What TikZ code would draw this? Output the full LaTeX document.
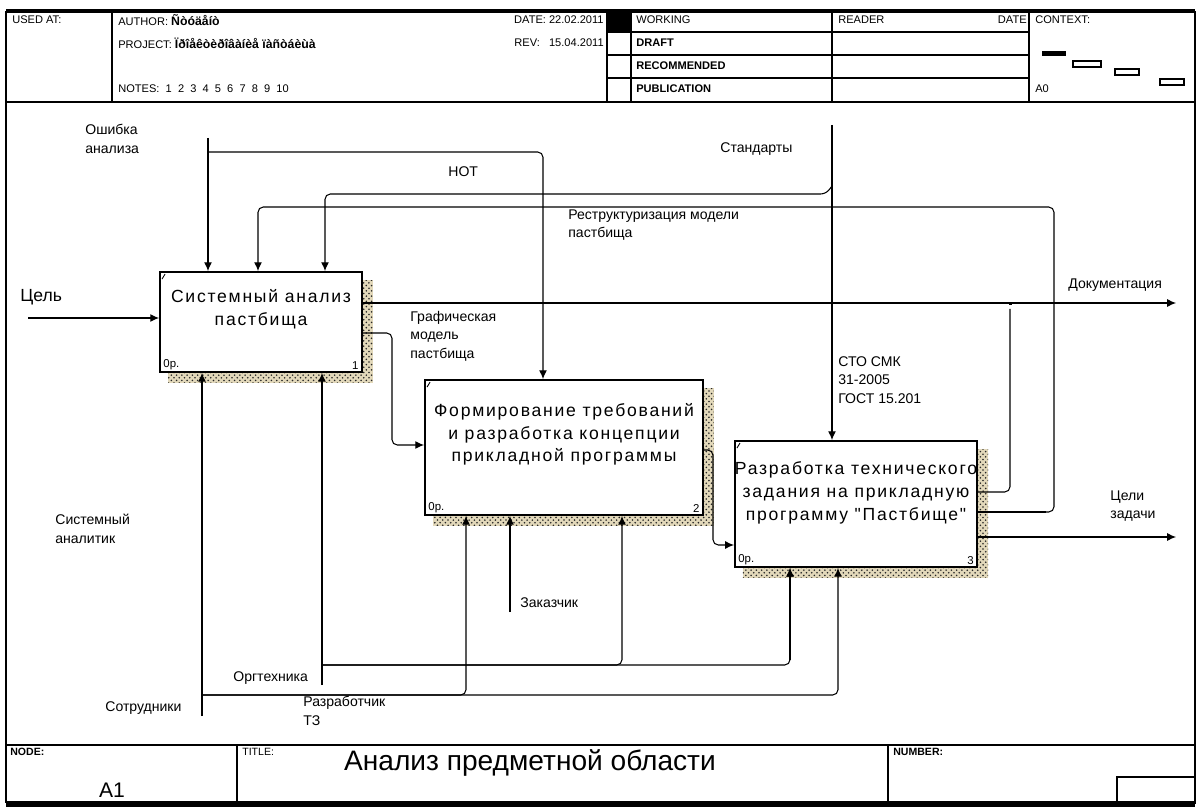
\documentclass[tikz,border=0pt]{standalone}
\usepackage{fontspec}
\setmainfont{Liberation Sans}
\newfontfamily\boxfont[LetterSpace=10]{Liberation Sans}
\usepackage{tikz}
\usetikzlibrary{arrows.meta,positioning,calc,patterns,backgrounds}
\definecolor{shadowtan}{RGB}{226,216,186}

\begin{document}
\begin{tikzpicture}[x=0.02cm, y=-0.02cm, >={Latex[length=5pt,width=4.5pt]},
  frame/.style={line width=0.9pt},
  arr/.style={->, line width=0.6pt, rounded corners=3pt},
  heavy/.style={->, line width=1.5pt},
  actbox/.style={draw, line width=1.1pt, fill=white, align=center, inner sep=0pt,
                 font=\boxfont\fontsize{10}{13}\selectfont},
  hdr/.style={font=\fontsize{6.3}{7}\selectfont, anchor=west, inner sep=0pt},
  lbl/.style={font=\fontsize{8}{10.5}\selectfont, align=left, anchor=north west, inner sep=0pt},
  tag/.style={font=\fontsize{6.5}{7}\selectfont, inner sep=0pt}]

\useasboundingbox (0,0) rectangle (1200,810);

% 1. Header frame
\draw[line width=2.5pt] (6,11) -- (1195,11);
\draw[frame] (6,11) -- (6,803);
\draw[frame] (1195,11) -- (1195,803);
\draw[frame] (6,102) -- (1195,102);
\foreach \x in {112,607,631,832,1029} \draw[frame] (\x,11) -- (\x,102);
\foreach \y in {32,55,78} \draw[frame] (607,\y) -- (1029,\y);
\fill (607,11) rectangle (631,32);

% 2. Header texts
\node[hdr] (usedat) at (12,20) {USED AT:};
\node[hdr] (author) at (118,20) {AUTHOR: {\fontsize{7}{8}\selectfont\bfseries Ñòóäåíò}};
\node[hdr] (project) at (118,43) {PROJECT: {\fontsize{7}{8}\selectfont\bfseries Ïðîåêòèðîâàíèå ïàñòáèùà}};
\node[hdr] (notes) at (118,89) {NOTES:\ \ 1\ \ 2\ \ 3\ \ 4\ \ 5\ \ 6\ \ 7\ \ 8\ \ 9\ \ 10};
\node[hdr, anchor=east] (date) at (604,20) {DATE: 22.02.2011};
\node[hdr, anchor=east] (rev) at (604,43) {REV:\ \ \ 15.04.2011};
\node[hdr] (working) at (636,20) {WORKING};
\node[hdr, font=\fontsize{6.3}{7}\selectfont\bfseries] (draft) at (636,43) {DRAFT};
\node[hdr, font=\fontsize{6.3}{7}\selectfont\bfseries] (recom) at (636,66) {RECOMMENDED};
\node[hdr, font=\fontsize{6.3}{7}\selectfont\bfseries] (publ) at (636,89) {PUBLICATION};
\node[hdr] (reader) at (838,20) {READER};
\node[hdr, anchor=east] (rdate) at (1027,20) {DATE};
\node[hdr] (context) at (1035,20) {CONTEXT:};
\node[hdr] (ctxnode) at (1035,89) {A0};

% context thumbnails
\fill (1042,51) rectangle (1066,56);
\draw[line width=0.7pt] (1073,61) rectangle (1101,67);
\draw[line width=0.7pt] (1115,69) rectangle (1139,75);
\draw[line width=1pt] (1160,79) rectangle (1184,85);

% 3. Footer
\draw[frame] (6,745) -- (1195,745);
\draw[line width=3pt] (6,804) -- (1195,804);
\foreach \x in {237,888} \draw[frame] (\x,745) -- (\x,803);
\draw[frame] (1117,777) rectangle (1195,803);
\node[hdr, font=\fontsize{6}{7}\selectfont\bfseries] (nodelbl) at (10,752) {NODE:};
\node[hdr, font=\fontsize{6}{7}\selectfont] (titlelbl) at (242,752) {TITLE:};
\node[hdr, font=\fontsize{6}{7}\selectfont\bfseries] (numlbl) at (893,752) {NUMBER:};
\node[font=\fontsize{12}{12}\selectfont] (nodenum) at (112,790) {A1};
\node[font=\fontsize{16}{16}\selectfont] (title) at (530,763) {Анализ предметной области};

% 4. Activity boxes
\node[actbox, minimum width=4.04cm, minimum height=2.0cm] (b1) at (261,322)
  {Системный анализ\\пастбища\\[4pt]};
\node[actbox, minimum width=5.56cm, minimum height=2.7cm] (b2) at (564,447.5)
  {Формирование требований\\и разработка концепции\\прикладной программы\\[4pt]};
\node[actbox, minimum width=4.84cm, minimum height=2.52cm] (b3) at (856,504)
  {Разработка технического\\задания на прикладную\\программу "Пастбище"\\[2pt]};

\begin{scope}[on background layer]
\foreach \b in {b1,b2,b3} {
  \fill[shadowtan] ([shift={(9,9)}]\b.north west) rectangle ([shift={(10,10)}]\b.south east);
  \fill[pattern=crosshatch dots, pattern color=black!85] ([shift={(9,9)}]\b.north west) rectangle ([shift={(10,10)}]\b.south east);
}
\end{scope}

\foreach \b/\n in {b1/1,b2/2,b3/3} {
  \node[tag, anchor=south west] at ([shift={(4,-3)}]\b.south west) {0р.};
  \node[tag, anchor=south east] at ([shift={(-4,-3)}]\b.south east) {\n};
  \draw[line width=0.5pt] ([shift={(3,8)}]\b.north west) -- ([shift={(6,3)}]\b.north west);
}

% 5. Inputs and outputs
\coordinate (cel) at (28,318);
\draw[arr] (cel) -- (cel -| b1.west);

\coordinate (doc) at (1176,303);
\draw[arr] (b1.east |- doc) -- (doc);
\draw[line width=0.6pt, rounded corners=3pt] (b3.east |- 0,492) -| (1010,309);
\fill (1009,302) rectangle (1012,305);

\coordinate (goal) at (1176,537);
\draw[arr] (b3.east |- goal) -- (goal);

\draw[arr] (b1.east |- 0,333) -| (392,445) -- (b2.west |- 0,445);
\draw[arr] (b2.east |- 0,450) -| (713,545) -- (b3.west |- 0,545);

% 6. Controls
\coordinate (osh) at (208,138);
\coordinate (oshj) at (208,152);
\draw[arr] (osh) -- (osh |- b1.north);
\draw[arr] (oshj) -| (b2.north -| 543,0);

\coordinate (std) at (832,125);
\coordinate (stdj) at (832,186);
\draw[arr] (std) -- (std |- b3.north);
\draw[arr] (stdj) -- (826,194) -| (b1.north -| 325,0);

\draw[arr] (b3.east |- 0,512) -| (1054,207) -| (b1.north -| 258,0);
\draw[line width=1.5pt] (b3.east |- 0,512) -- (1046,512);

% 7. Mechanisms
\coordinate (sotr) at (202,716);
\coordinate (sotrj) at (202,695);
\draw[arr] (sotr) -- (sotr |- b1.south);
\draw[arr] (sotrj) -| (b2.south -| 466,0);
\draw[arr] (sotrj) -| (b3.south -| 838,0);

\coordinate (org) at (322,685);
\coordinate (orgj) at (322,665);
\draw[arr] (org) -- (org |- b1.south);
\draw[arr] (orgj) -| (b2.south -| 622,0);
\draw[arr] (orgj) -| (b3.south -| 790,0);
\draw[heavy] (790,660) -- (b3.south -| 790,0);

\coordinate (zak) at (510,612);
\draw[arr] (zak) -- (zak |- b2.south);

% 8. Arrow labels
\node[lbl, font=\fontsize{10}{12}\selectfont] (lcel) at (20,289) {Цель};
\node[lbl] (losh) at (85,124) {Ошибка\\анализа};
\node[lbl] (lnot) at (448,166) {НОТ};
\node[lbl] (lstd) at (720,142) {Стандарты};
\node[lbl] (lres) at (568,209) {Реструктуризация модели\\пастбища};
\node[lbl] (ldoc) at (1068,278) {Документация};
\node[lbl] (lgraf) at (410,311) {Графическая\\модель\\пастбища};
\node[lbl] (lsto) at (838,356) {СТО СМК\\31-2005\\ГОСТ 15.201};
\node[lbl] (lgoal) at (1110,490) {Цели\\задачи};
\node[lbl] (lsys) at (55,514) {Системный\\аналитик};
\node[lbl] (lzak) at (520,597) {Заказчик};
\node[lbl] (lorg) at (233,671) {Оргтехника};
\node[lbl] (lsotr) at (105,701) {Сотрудники};
\node[lbl] (lrazr) at (303,696) {Разработчик\\ТЗ};

\end{tikzpicture}
\end{document}
